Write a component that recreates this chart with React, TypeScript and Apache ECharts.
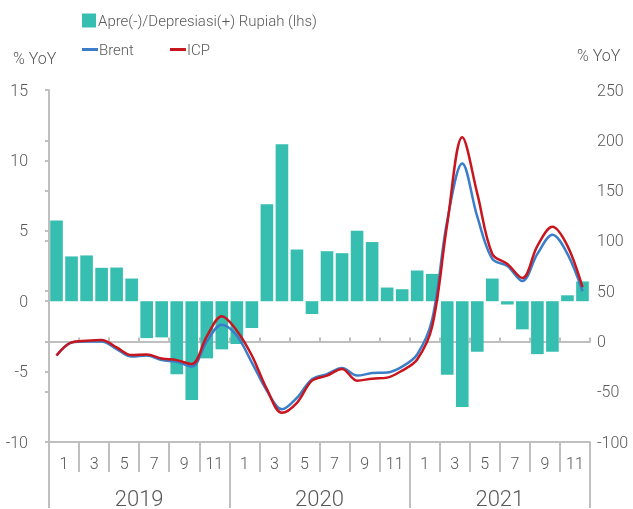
import React, { useEffect, useRef } from "react";
import * as echarts from "echarts";

const months: string[] = [];
const years = ["2019", "2020", "2021"];
for (const y of years) for (let m = 1; m <= 12; m++) months.push(`${y}-${m}`);
const monthPairLabels = ["1", "3", "5", "7", "9", "11", "1", "3", "5", "7", "9", "11", "1", "3", "5", "7", "9", "11"];

const rupiah = [5.74, 3.18, 3.25, 2.37, 2.39, 1.61, -2.62, -2.57, -5.18, -7.01, -4.06, -3.42, -3.04, -1.9, 6.88, 11.15, 3.67, -0.91, 3.55, 3.41, 5.0, 4.2, 0.97, 0.85, 2.18, 1.94, -5.23, -7.51, -3.59, 1.61, -0.24, -2.0, -3.76, -3.59, 0.42, 1.4];
const brent = [-14, -1, 0, 0, -7.6, -15, -14, -18.6, -20.3, -25, 0, 16.6, 5.7, -21, -49, -67.5, -56, -37.5, -32.5, -26.5, -34, -31.5, -31, -25, -13, 22, 120, 177, 124, 82, 75, 60, 87, 106, 87, 50];
const icp = [-14, -1, 0.7, 1.5, -6, -13.6, -13, -17, -18.6, -22.5, 5, 25, 10.7, -14, -47.5, -71, -61, -39, -34, -27.5, -39, -37, -36, -29, -18, 15, 117, 203, 147, 87, 77, 63, 95, 114, 95, 54];

const FONT = "Roboto, 'Liberation Sans', sans-serif";
const TXT = "#595959";
const AX = "#BFBFBF";
const W = 300;

export default function App() {
  const ref = useRef<HTMLDivElement>(null);
  useEffect(() => {
    if (!ref.current) return;
    const chart = echarts.init(ref.current, undefined, { renderer: "svg" });
    chart.setOption({
      animation: false,
      textStyle: { fontFamily: FONT, color: TXT, fontWeight: W },
      grid: { left: 49, right: 43, top: 90, bottom: 67 },
      legend: [
        {
          data: [{ name: "Apre(-)/Depresiasi(+) Rupiah (lhs)", icon: "rect" }],
          left: 77,
          top: 8,
          itemWidth: 14,
          itemHeight: 14,
          itemGap: 0,
          textStyle: { fontFamily: FONT, color: TXT, fontSize: 15, fontWeight: W, padding: [0, 0, 0, -3] },
        },
        {
          data: [
            { name: "Brent", icon: "rect" },
            { name: "ICP", icon: "rect" },
          ],
          left: 77,
          top: 37,
          itemWidth: 16,
          itemHeight: 3,
          itemGap: 36,
          textStyle: { fontFamily: FONT, color: TXT, fontSize: 15, fontWeight: W, padding: [0, 0, 0, -4] },
        },
      ],
      graphic: [
        { type: "text", left: 13, top: 50, style: { text: "% YoY", fontFamily: FONT, fontSize: 16, fontWeight: W, fill: TXT } },
        { type: "text", left: 577, top: 47, style: { text: "% YoY", fontFamily: FONT, fontSize: 16, fontWeight: W, fill: TXT } },
      ],
      xAxis: [
        {
          type: "category",
          data: months,
          position: "bottom",
          axisLine: { onZero: true, onZeroAxisIndex: 1, lineStyle: { color: AX, width: 2 } },
          axisTick: { show: true, inside: true, length: 4, interval: 1, lineStyle: { color: AX, width: 2 } },
          axisLabel: { show: false },
          splitLine: { show: false },
        },
        {
          type: "category",
          data: monthPairLabels,
          position: "bottom",
          axisLine: { onZero: false, show: true, lineStyle: { color: AX, width: 2 } },
          axisTick: { show: true, length: 30, interval: 0, lineStyle: { color: AX, width: 2 } },
          axisLabel: { show: true, interval: 0, margin: 13, fontSize: 16, fontWeight: W, color: TXT, fontFamily: FONT },
          splitLine: { show: false },
        },
        {
          type: "category",
          data: years,
          position: "bottom",
          axisLine: { onZero: false, show: false },
          axisTick: { show: true, length: 66, interval: 0, lineStyle: { color: AX, width: 2 } },
          axisLabel: { show: true, interval: 0, margin: 45, fontSize: 22, fontWeight: W, color: TXT, fontFamily: FONT },
          splitLine: { show: false },
        },
      ],
      yAxis: [
        {
          type: "value",
          position: "left",
          min: -10,
          max: 15,
          interval: 5,
          axisLine: { show: true, lineStyle: { color: AX, width: 2 } },
          axisTick: { show: true, length: 4, lineStyle: { color: AX, width: 2 } },
          axisLabel: { margin: 21, fontSize: 16, fontWeight: W, color: TXT, fontFamily: FONT },
          splitLine: { show: false },
        },
        {
          type: "value",
          position: "right",
          min: -100,
          max: 250,
          interval: 50,
          axisLine: { show: false },
          axisTick: { show: false },
          axisLabel: { margin: 7, fontSize: 16, fontWeight: W, color: TXT, fontFamily: FONT },
          splitLine: { show: false },
        },
        {
          type: "value",
          position: "left",
          min: -100,
          max: 250,
          interval: 50,
          axisLine: { show: false },
          axisTick: { show: true, length: 4, lineStyle: { color: AX, width: 2 } },
          axisLabel: { show: false },
          splitLine: { show: false },
        },
      ],
      series: [
        {
          name: "Apre(-)/Depresiasi(+) Rupiah (lhs)",
          type: "bar",
          xAxisIndex: 0,
          yAxisIndex: 0,
          data: rupiah,
          barCategoryGap: "16%",
          itemStyle: { color: "#36BEB0" },
        },
        {
          name: "Brent",
          type: "line",
          xAxisIndex: 0,
          yAxisIndex: 1,
          data: brent,
          smooth: 0.35,
          symbol: "none",
          lineStyle: { color: "#3B7DC8", width: 2.5 },
          itemStyle: { color: "#3B7DC8" },
        },
        {
          name: "ICP",
          type: "line",
          xAxisIndex: 0,
          yAxisIndex: 1,
          data: icp,
          smooth: 0.35,
          symbol: "none",
          lineStyle: { color: "#C8161E", width: 2.5 },
          itemStyle: { color: "#C8161E" },
        },
      ],
    });
    return () => chart.dispose();
  }, []);
  return <div ref={ref} style={{ position: "fixed", left: 0, top: 0, width: 633, height: 509 }} />;
}
